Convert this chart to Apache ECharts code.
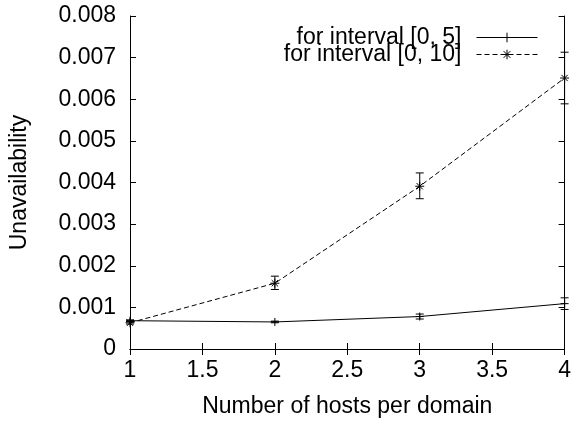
<!DOCTYPE html>
<html>
<head>
<meta charset="utf-8">
<script src="https://cdn.jsdelivr.net/npm/echarts@6/dist/echarts.min.js"></script>
<style>
html,body{margin:0;padding:0;background:#fff;}
#chart{width:574px;height:423px;}
</style>
</head>
<body>
<div id="chart"></div>
<script>
// ---- data ----
const hosts = [1, 2, 3, 4];
const seriesNames = ['for interval [0, 5]', 'for interval [0, 10]'];
const unavail5 = [0.00068, 0.00065, 0.00078, 0.00109];
const low5 = [0.00066, 0.00063, 0.00072, 0.00095];
const high5 = [0.00070, 0.00067, 0.00084, 0.00123];
const unavail10 = [0.00063, 0.00158, 0.00391, 0.00651];
const low10 = [0.00060, 0.00143, 0.00361, 0.00589];
const high10 = [0.00066, 0.00175, 0.00423, 0.00713];
const yTicks = ['0', '0.001', '0.002', '0.003', '0.004', '0.005', '0.006', '0.007', '0.008'];

const FONT = 'Liberation Sans';
const FS = 23;

function pairs(xs, ys) { return xs.map((x, i) => [x, ys[i]]); }
function errData(xs, lo, hi) { return xs.map((x, i) => [x, lo[i], hi[i]]); }

function errRender(params, api) {
  const x = api.value(0);
  const p1 = api.coord([x, api.value(1)]);
  const p2 = api.coord([x, api.value(2)]);
  const w = 4;
  const st = { stroke: '#000', lineWidth: 1 };
  return {
    type: 'group',
    children: [
      { type: 'line', shape: { x1: p1[0], y1: p1[1], x2: p2[0], y2: p2[1] }, style: st },
      { type: 'line', shape: { x1: p1[0] - w, y1: p1[1], x2: p1[0] + w, y2: p1[1] }, style: st },
      { type: 'line', shape: { x1: p2[0] - w, y1: p2[1], x2: p2[0] + w, y2: p2[1] }, style: st }
    ]
  };
}

const plusSym = 'path://M0 5L10 5M5 0L5 10';
const starSym = 'path://M0 5L10 5M5 0L5 10M1.5 1.5L8.5 8.5M1.5 8.5L8.5 1.5';

const chart = echarts.init(document.getElementById('chart'), null, { renderer: 'canvas' });
const axisCommon = {
  axisLine: { show: true, lineStyle: { color: '#000', width: 1 } },
  axisTick: { show: true, inside: true, length: 6, lineStyle: { color: '#000', width: 1 } },
  splitLine: { show: false }
};
const legendCommon = {
  orient: 'vertical', right: 36, padding: 0,
  align: 'right', itemWidth: 61, itemHeight: 12,
  lineStyle: { width: 1 },
  itemStyle: { borderWidth: 1 },
  textStyle: { fontFamily: FONT, fontSize: FS, color: '#000', padding: [0, 10, 0, 0] }
};
chart.setOption({
  animation: false,
  backgroundColor: '#fff',
  textStyle: { fontFamily: FONT },
  grid: { left: 126, right: 8, top: 16, bottom: 74, containLabel: false },
  legend: [
    Object.assign({}, legendCommon, { data: [seriesNames[0]], top: 26 }),
    Object.assign({}, legendCommon, { data: [seriesNames[1]], top: 43 })
  ],
  xAxis: [
    Object.assign({}, axisCommon, {
      type: 'value', min: 1, max: 4, interval: 0.5, position: 'bottom',
      name: 'Number of hosts per domain', nameLocation: 'middle', nameGap: 46,
      nameTextStyle: { fontFamily: FONT, fontSize: FS, color: '#000' },
      axisLabel: { fontFamily: FONT, fontSize: FS, color: '#000', margin: 10 }
    }),
    Object.assign({}, axisCommon, {
      type: 'value', min: 1, max: 4, interval: 0.5, position: 'top',
      axisLabel: { show: false }
    })
  ],
  yAxis: [
    Object.assign({}, axisCommon, {
      type: 'value', min: 0, max: 0.008, interval: 0.001, position: 'left',
      name: 'Unavailability', nameLocation: 'middle', nameGap: 99,
      nameTextStyle: { fontFamily: FONT, fontSize: FS, color: '#000' },
      axisLabel: { fontFamily: FONT, fontSize: FS, color: '#000', margin: 14,
        formatter: (v) => yTicks[Math.round(v / 0.001)] }
    }),
    Object.assign({}, axisCommon, {
      type: 'value', min: 0, max: 0.008, interval: 0.001, position: 'right',
      axisLabel: { show: false }
    })
  ],
  series: [
    {
      name: seriesNames[0], type: 'line', data: pairs(hosts, unavail5),
      symbol: plusSym, symbolSize: 8, showSymbol: true,
      lineStyle: { color: '#000', width: 1, type: 'solid' },
      itemStyle: { color: '#000', borderColor: '#000', borderWidth: 1 },
      z: 3
    },
    {
      name: seriesNames[1], type: 'line', data: pairs(hosts, unavail10),
      symbol: starSym, symbolSize: 9, showSymbol: true,
      lineStyle: { color: '#000', width: 1, type: [5, 3] },
      itemStyle: { color: '#000', borderColor: '#000', borderWidth: 1 },
      z: 3
    },
    {
      type: 'custom', renderItem: errRender, data: errData(hosts, low5, high5),
      encode: { x: 0, y: [1, 2] }, silent: true, z: 2
    },
    {
      type: 'custom', renderItem: errRender, data: errData(hosts, low10, high10),
      encode: { x: 0, y: [1, 2] }, silent: true, z: 2
    }
  ]
});
</script>
</body>
</html>
